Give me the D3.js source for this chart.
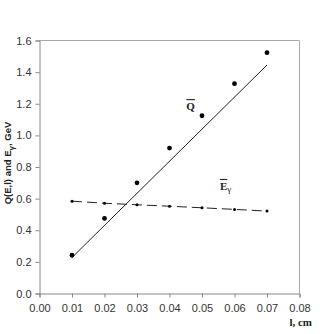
<!DOCTYPE html>
<html>
<head>
<meta charset="utf-8">
<script src="https://cdn.jsdelivr.net/npm/d3@7"></script>
<style>
  body { margin: 0; background: #fff; }
</style>
</head>
<body>
<div id="chart"></div>
<script>
// thickness l (cm)
var lengths = [0.01, 0.02, 0.03, 0.04, 0.05, 0.06, 0.07];
// mean Q(E,l), GeV (points)
var qValues = [0.242, 0.475, 0.70, 0.92, 1.124, 1.327, 1.523];
// straight line drawn through Q
var qLineX = [0.01, 0.07];
var qLineY = [0.228, 1.445];
// mean E gamma, GeV
var eValues = [0.584, 0.571, 0.561, 0.552, 0.542, 0.532, 0.521];

var xTicks = [0, 0.01, 0.02, 0.03, 0.04, 0.05, 0.06, 0.07, 0.08];
var yTicks = [0, 0.2, 0.4, 0.6, 0.8, 1.0, 1.2, 1.4, 1.6];

var W = 334, H = 334;
var m = {left: 39.5, right: 299.5, top: 40.5, bottom: 293.5};
var sans = '"Liberation Sans", Arial, sans-serif';
var serif = '"Liberation Serif", "Times New Roman", serif';

var svg = d3.select('#chart').append('svg')
  .attr('width', W).attr('height', H)
  .style('font-family', sans);

var x = d3.scaleLinear().domain([0, 0.08]).range([m.left, m.right]);
var y = d3.scaleLinear().domain([0, 1.6]).range([m.bottom, m.top]);

var axisColor = '#888';

// frame top / right
svg.append('path')
  .attr('d', 'M' + m.left + ',' + m.top + 'H' + m.right + 'V' + m.bottom)
  .attr('fill', 'none').attr('stroke', '#aaa').attr('stroke-width', 1);

// minor ticks
var xMinor = d3.range(0, 41).map(function(i) { return i * 0.002; });
var yMinor = d3.range(0, 41).map(function(i) { return i * 0.04; });

var xa = svg.append('g').attr('transform', 'translate(0,' + m.bottom + ')');
xa.call(d3.axisBottom(x).tickValues(xMinor).tickSize(2).tickFormat(''));
xa.call(d3.axisBottom(x).tickValues(xTicks).tickSize(4).tickPadding(7)
  .tickFormat(d3.format('.2f')));
xa.selectAll('path,line').attr('stroke', axisColor);
xa.selectAll('text').attr('font-size', 11).attr('fill', '#333')
  .style('font-family', sans);

var ya = svg.append('g').attr('transform', 'translate(' + m.left + ',0)');
ya.call(d3.axisLeft(y).tickValues(yMinor).tickSize(2).tickFormat(''));
ya.call(d3.axisLeft(y).tickValues(yTicks).tickSize(4).tickPadding(4)
  .tickFormat(d3.format('.1f')));
ya.selectAll('path,line').attr('stroke', axisColor);
ya.selectAll('text').attr('font-size', 11).attr('fill', '#333')
  .style('font-family', sans);

// Q fit line
var line = d3.line().x(function(d) { return x(d[0]); }).y(function(d) { return y(d[1]); });
svg.append('path')
  .attr('d', line(d3.zip(qLineX, qLineY)))
  .attr('fill', 'none').attr('stroke', '#222').attr('stroke-width', 1);

// E dashed line
svg.append('path')
  .attr('d', line(d3.zip(lengths, eValues)))
  .attr('fill', 'none').attr('stroke', '#222').attr('stroke-width', 1)
  .attr('stroke-dasharray', '10,5');

svg.selectAll('.q').data(d3.zip(lengths, qValues)).enter().append('circle')
  .attr('cx', function(d) { return x(d[0]); })
  .attr('cy', function(d) { return y(d[1]); })
  .attr('r', 2.4).attr('fill', '#000');

svg.selectAll('.e').data(d3.zip(lengths, eValues)).enter().append('circle')
  .attr('cx', function(d) { return x(d[0]); })
  .attr('cy', function(d) { return y(d[1]); })
  .attr('r', 1.5).attr('fill', '#000');

// labels
svg.append('text')
  .attr('x', x(0.0465)).attr('y', y(1.16))
  .style('font-family', serif).attr('font-weight', 'bold')
  .attr('font-size', 11).attr('text-anchor', 'middle').attr('fill', '#222')
  .style('text-decoration', 'overline')
  .text('Q');

var el = svg.append('text')
  .attr('x', x(0.0555)).attr('y', y(0.655))
  .style('font-family', serif).attr('font-weight', 'bold')
  .attr('font-size', 11).attr('fill', '#222');
el.append('tspan').style('text-decoration', 'overline').text('E');
el.append('tspan').attr('dy', 2.5).attr('font-size', 9).attr('font-weight', 'normal').text('γ');

var yl = svg.append('text')
  .attr('transform', 'translate(11,163) rotate(-90)')
  .attr('text-anchor', 'middle').attr('font-weight', 'bold').attr('font-size', 9.5)
  .attr('fill', '#222');
yl.append('tspan').text('Q(E,l) and E');
yl.append('tspan').attr('dy', 2.5).attr('font-size', 8).text('γ');
yl.append('tspan').attr('dy', -2.5).text(', GeV');

svg.append('text')
  .attr('x', 312).attr('y', 326).attr('text-anchor', 'end')
  .style('font-family', serif).attr('font-weight', 'bold')
  .attr('font-size', 11).attr('fill', '#222')
  .text('l, cm');
</script>
</body>
</html>
